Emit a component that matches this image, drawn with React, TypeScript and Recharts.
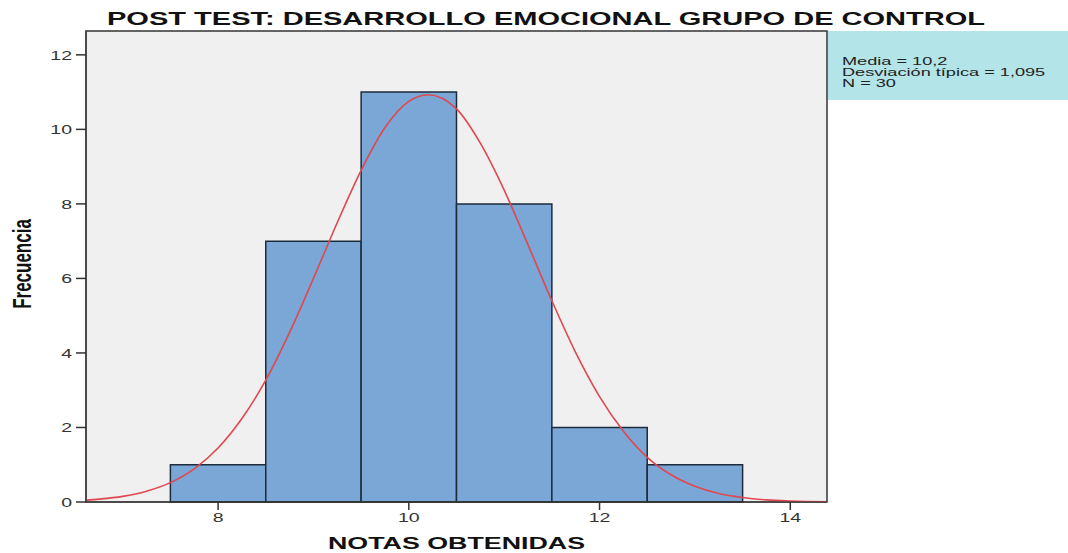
import React from 'react';
import { ComposedChart, Line, XAxis, YAxis, CartesianGrid, ReferenceArea } from 'recharts';

// histogram bins (lower edge, upper edge, count)
const binStart = [7.5, 8.5, 9.5, 10.5, 11.5, 12.5];
const binEnd = [8.5, 9.5, 10.5, 11.5, 12.5, 13.5];
const binCount = [1, 7, 11, 8, 2, 1];

// normal curve
const curveX = [6.62, 6.75, 7, 7.25, 7.5, 7.75, 8, 8.25, 8.5, 8.75, 9, 9.25, 9.5, 9.75, 10, 10.2, 10.5, 10.75, 11, 11.25, 11.5, 11.75, 12, 12.25, 12.5, 12.75, 13, 13.25, 13.5, 13.75, 14, 14.38];
const curveY = [0.05, 0.076, 0.15, 0.29, 0.52, 0.89, 1.45, 2.24, 3.27, 4.55, 6.0, 7.5, 8.9, 10.05, 10.75, 10.93, 10.55, 9.63, 8.37, 6.9, 5.4, 4.01, 2.83, 1.9, 1.2, 0.73, 0.42, 0.226, 0.12, 0.057, 0.026, 0.007];

const xTicks = [8, 10, 12, 14];
const yTicks = [0, 2, 4, 6, 8, 10, 12];
const xDomain = [6.615, 14.385];
const yDomain = [0, 12.64];

const statsLines = ['Media = 10,2', 'Desviación típica = 1,095', 'N = 30'];

const curveData = curveX.map((x, i) => ({ x, density: curveY[i] }));

const FONT = '"Liberation Sans", Arial, sans-serif';

const YTick = (props: any) => {
    const { x, y, payload } = props;
    return (
        <text transform={`translate(${x},${y}) scale(1.5,1)`} textAnchor="end" dy="0.36em" fontSize={13} fill="#333" fontFamily={FONT}>
            {payload.value}
        </text>
    );
};

const XTick = (props: any) => {
    const { x, y, payload } = props;
    return (
        <text transform={`translate(${x},${y + 10}) scale(1.5,1)`} textAnchor="middle" fontSize={13} fill="#333" fontFamily={FONT}>
            {payload.value}
        </text>
    );
};

export default function App() {
    return (
        <div style={{ position: 'absolute', left: 0, top: 0, width: 1068, height: 553, background: '#fff' }}>
            <ComposedChart
                width={1068}
                height={553}
                data={curveData}
                margin={{ top: 31, right: 241, bottom: 0, left: 0 }}
            >
                <CartesianGrid fill="#f0f0f0" horizontal={false} vertical={false} />
                <XAxis
                    dataKey="x"
                    type="number"
                    domain={xDomain}
                    ticks={xTicks}
                    allowDataOverflow
                    height={51}
                    tickSize={8}
                    tickMargin={2}
                    tick={<XTick />}
                    stroke="#333"
                    tickLine={{ stroke: '#333', strokeWidth: 1.5 }}
                />
                <YAxis
                    type="number"
                    domain={yDomain}
                    ticks={yTicks}
                    allowDataOverflow
                    width={86}
                    tickSize={10}
                    tickMargin={4}
                    tick={<YTick />}
                    stroke="#333"
                    tickLine={{ stroke: '#333', strokeWidth: 1.5 }}
                />
                {binCount.map((c, i) => (
                    <ReferenceArea
                        key={`bin-${i}`}
                        x1={binStart[i]}
                        x2={binEnd[i]}
                        y1={0}
                        y2={c}
                        fill="#7aa7d5"
                        fillOpacity={1}
                        stroke="#1d2c3c"
                        strokeWidth={1.5}
                        ifOverflow="visible"
                    />
                ))}
                <ReferenceArea
                    x1={xDomain[0]}
                    x2={xDomain[1]}
                    y1={yDomain[0]}
                    y2={yDomain[1]}
                    fill="none"
                    stroke="#333"
                    strokeWidth={1.5}
                    ifOverflow="visible"
                />
                <Line
                    type="monotone"
                    dataKey="density"
                    stroke="#e0474f"
                    strokeWidth={1.6}
                    dot={false}
                    isAnimationActive={false}
                />
            </ComposedChart>
            <svg width={1068} height={553} style={{ position: 'absolute', left: 0, top: 0, pointerEvents: 'none' }}>
                <text x={107} y={25} textLength={878} lengthAdjust="spacingAndGlyphs" fontSize={19} fontWeight="bold" fill="#111" fontFamily={FONT}>
                    POST TEST: DESARROLLO EMOCIONAL GRUPO DE CONTROL
                </text>
                <text x={328} y={549} textLength={257} lengthAdjust="spacingAndGlyphs" fontSize={17} fontWeight="bold" fill="#111" fontFamily={FONT}>
                    NOTAS OBTENIDAS
                </text>
                <text transform="translate(31,264) scale(1.55,1) rotate(-90)" textAnchor="middle" fontSize={17} fontWeight="bold" fill="#111" fontFamily={FONT}>
                    Frecuencia
                </text>
                <rect x={828} y={31} width={240} height={69} fill="#b3e4e7" />
                {statsLines.map((t, i) => (
                    <text key={t} transform={`translate(842,${65 + i * 11}) scale(1.65,1)`} fontSize={11} fill="#222" fontFamily={FONT}>
                        {t}
                    </text>
                ))}
            </svg>
        </div>
    );
}
